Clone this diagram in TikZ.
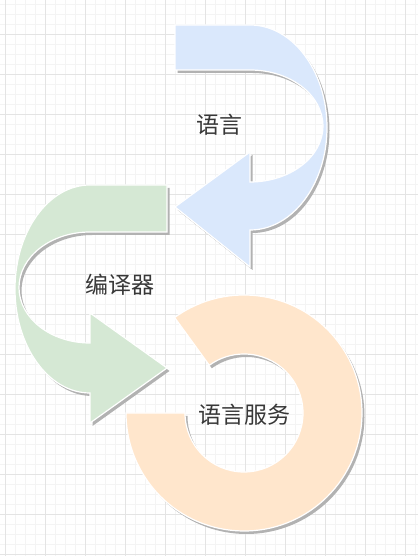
\documentclass[tikz,border=0pt]{standalone}
\usepackage{fontspec}
\newfontfamily\cjk{Noto Sans CJK SC}
\usetikzlibrary{shadows, positioning}

\definecolor{langblue}{HTML}{DAE8FC}
\definecolor{compgreen}{HTML}{D5E8D4}
\definecolor{servorange}{HTML}{FFE6CC}
\definecolor{gridmajor}{HTML}{E4E4E4}
\definecolor{gridminor}{HTML}{F4F4F4}

\tikzset{
    ribbon/.style={draw=white, line width=1.2pt, line join=miter,
        drop shadow={shadow xshift=2.5pt, shadow yshift=-3pt, fill=black!30, opacity=1}},
    caption/.style={font=\cjk\fontsize{23}{27}\selectfont, text=black!78, inner sep=0pt}
}

\begin{document}
\begin{tikzpicture}[x=1pt, y=1pt]
        \useasboundingbox (0,0) rectangle (418,556);
        \fill[white] (0,0) rectangle (418,556);

        % Grid
        \foreach \gx in {5,15,...,415} \draw[gridminor, line width=0.8pt] (\gx,0) -- (\gx,556);
        \foreach \gy in {2,12,...,552} \draw[gridminor, line width=0.8pt] (0,\gy) -- (418,\gy);
        \foreach \gx in {5,45,...,405} \draw[gridmajor, line width=0.9pt] (\gx,0) -- (\gx,556);
        \foreach \gy in {2,42,...,542} \draw[gridmajor, line width=0.9pt] (0,\gy) -- (418,\gy);

        % Language arrow
        \path[ribbon, fill=langblue] (175,531) -- (250,531)
            arc[start angle=90, end angle=-90, x radius=77pt, y radius=102.5pt]
            -- (250,289) -- (175,349) -- (250,404) -- (250,374)
            arc[start angle=-90, end angle=90, x radius=73pt, y radius=56pt]
            -- (175,486) -- cycle;
        \node[caption] (lang) at (219,431) {语言};

        % Compiler arrow
        \path[ribbon, fill=compgreen] (167,371) -- (90,371)
            arc[start angle=90, end angle=270, x radius=75pt, y radius=104pt]
            -- (90,133) -- (167,188) -- (90,243) -- (90,213)
            arc[start angle=270, end angle=90, x radius=71pt, y radius=55.5pt]
            -- (167,324) -- cycle;
        \node[caption] (comp) at (120,271) {编译器};

        % Language service ring
        \path[ribbon, fill=servorange] (126:118pt) ++(244,143)
            arc[start angle=126, end angle=-180, radius=118pt]
            -- ++(59pt,0)
            arc[start angle=-180, end angle=126, radius=59pt]
            -- cycle;
        \node[caption] (serv) at (244,141) {语言服务};
\end{tikzpicture}
\end{document}
